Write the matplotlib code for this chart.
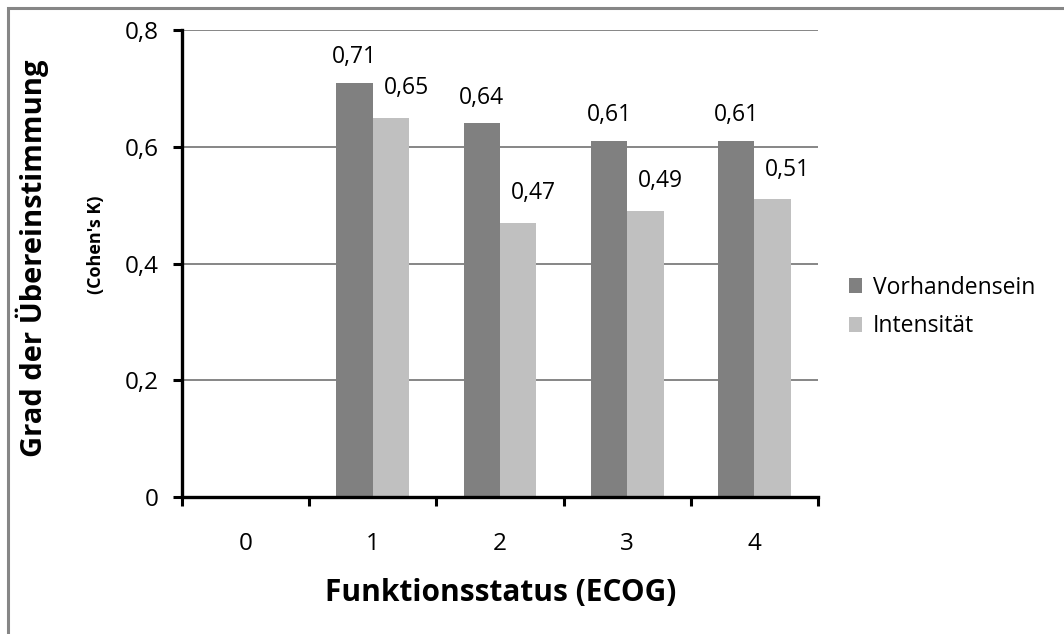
import numpy as np
import matplotlib
matplotlib.use("Agg")
import matplotlib.pyplot as plt
from matplotlib.patches import Rectangle

plt.rcParams['font.family'] = ['Open Sans', 'DejaVu Sans']

# ECOG categories and agreement (Cohen's kappa); category 0 has no values
categories = ['0', '1', '2', '3', '4']
vorhandensein = [np.nan, 0.71, 0.64, 0.61, 0.61]
intensitaet = [np.nan, 0.65, 0.47, 0.49, 0.51]
series_names = ['Vorhandensein', 'Intensität']
yticks = [0, 0.2, 0.4, 0.6, 0.8]

W, H = 1064, 634
fig = plt.figure(figsize=(W / 100, H / 100), dpi=100)

# grey outer frame of the chart area
fig.patches.append(Rectangle((8 / W, -0.05), 1.1, (H - 8) / H + 0.05, transform=fig.transFigure,
                             fill=False, edgecolor='#868686', linewidth=2.2))

ax = fig.add_axes([182 / W, (H - 497) / H, (818 - 182) / W, (497 - 30) / H])

x = np.arange(len(categories))
bw = 1 / 3.5  # gap width 150%
colors = ['#808080', '#c0c0c0']
label_offsets = [(0, 14), (11, 17)]  # points, per series
for i, vals in enumerate([vorhandensein, intensitaet]):
    pos = x + (i - 0.5) * bw
    ax.bar(pos, vals, bw, color=colors[i], label=series_names[i], zorder=2)
    for p, v in zip(pos, vals):
        if np.isnan(v):
            continue
        ax.annotate(f'{v:.2f}'.replace('.', ','), (p, v), xytext=label_offsets[i],
                    textcoords='offset points', ha='center', va='baseline', fontsize=16.5)

ax.set_xlim(-0.5, len(categories) - 0.5)
ax.set_ylim(0, 0.8)
ax.set_yticks(yticks)
ax.set_yticklabels([f'{t:g}'.replace('.', ',') for t in yticks], fontsize=17.5)
ax.set_xticks(np.arange(-0.5, len(categories)))
ax.set_xticklabels([])
ax.set_xticks(x, minor=True)
ax.set_xticklabels(categories, minor=True, fontsize=17.5)
ax.tick_params(axis='x', which='minor', length=0, pad=25)
ax.tick_params(axis='x', which='major', direction='out', length=6.5, width=2.2)
ax.tick_params(axis='y', direction='out', length=6.5, width=2.2, pad=10)

ax.grid(axis='y', color='#868686', linewidth=1.4, zorder=0)
ax.set_axisbelow(True)
for s in ['top', 'right']:
    ax.spines[s].set_visible(False)
for s in ['left', 'bottom']:
    ax.spines[s].set_linewidth(2.4)

fig.text(501 / W, 1 - 593 / H, 'Funktionsstatus (ECOG)', ha='center', va='center',
         fontsize=21.5, fontweight='bold')
fig.text(32 / W, 1 - 258 / H, 'Grad der Übereinstimmung', ha='center', va='center',
         rotation=90, fontsize=21, fontweight='bold')
fig.text(96 / W, 1 - 245 / H, "(Cohen's K)", ha='center', va='center',
         rotation=90, fontsize=13, fontweight='bold')

fig.legend(loc='center left', bbox_to_anchor=(828 / W, 1 - 307 / H), frameon=False,
           fontsize=16.5, handlelength=0.6, handleheight=0.6, handletextpad=0.45,
           labelspacing=0.65)

fig.savefig('out.png', dpi=100)
